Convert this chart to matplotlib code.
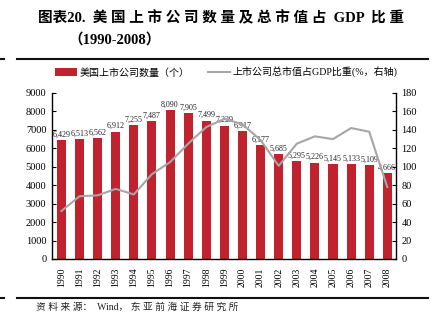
import matplotlib
matplotlib.use("Agg")
import matplotlib.pyplot as plt
from matplotlib.lines import Line2D
from matplotlib.patches import Patch

plt.rcParams['font.family'] = ['Liberation Serif', 'Noto Sans CJK SC']

years = [str(y) for y in range(1990, 2009)]
companies = [6429, 6513, 6562, 6912, 7255, 7487, 8090, 7905, 7499, 7229,
             6917, 6177, 5685, 5295, 5226, 5145, 5133, 5109, 4666]
cap_to_gdp = [52, 68, 69, 76, 70, 92, 105, 125, 143, 152,
              146, 129, 101, 125, 133, 130, 142, 138, 78]

bar_color = '#C0232E'
line_color = '#A6A6A6'

fig = plt.figure(figsize=(4.47, 3.22), dpi=100)
ax = fig.add_axes([0.1163, 0.1957, 0.7696, 0.5155])
ax2 = ax.twinx()

x = range(len(years))
bars = ax.bar(x, companies, width=0.5, color=bar_color, zorder=2)
ax.bar_label(bars, labels=[f"{v:,}" for v in companies], padding=1,
             fontsize=5.8, color='#222222')
ax2.plot(x, cap_to_gdp, color=line_color, lw=1.5, zorder=3)

ax.set_xlim(-0.52, 18.48)
ax.set_ylim(0, 9000)
ax.set_yticks(range(0, 9001, 1000))
ax2.set_ylim(0, 180)
ax2.set_yticks(range(0, 181, 20))
ax.set_xticks(list(x))
ax.set_xticklabels(years, rotation=90, fontsize=7)
ax.tick_params(axis='x', length=0, pad=6)
ax.tick_params(axis='y', direction='in', length=3, labelsize=7.5, pad=4)
ax2.tick_params(axis='y', direction='in', length=3, labelsize=7.5, pad=4)

for a in (ax, ax2):
    a.spines['top'].set_visible(False)
ax.spines['right'].set_visible(False)
ax2.spines['left'].set_visible(False)
ax2.spines['bottom'].set_visible(False)
for s in ('left', 'bottom'):
    ax.spines[s].set_linewidth(1.0)
ax2.spines['right'].set_linewidth(1.0)

ax.set_zorder(ax2.get_zorder() - 1)
ax.patch.set_visible(False)

handles = [Patch(facecolor=bar_color, edgecolor='none'),
           Line2D([], [], color=line_color, lw=1.5)]
labels = ['美国上市公司数量（个）', '上市公司总市值占GDP比重(%，右轴)']
fig.legend(handles, labels, loc='center left', bbox_to_anchor=(0.123, 0.776),
           ncol=2, frameon=False, fontsize=7.2, handlelength=2.2,
           handleheight=0.8, handletextpad=0.3, columnspacing=1.8,
           borderaxespad=0, borderpad=0)

# title block
fig.text(0.085, 0.944, '图表20.  美 国 上 市 公 司 数 量 及 总 市 值 占  GDP  比 重',
         fontsize=10.5, fontweight='bold', va='center', ha='left')
fig.text(0.152, 0.876, '（1990-2008）', fontsize=10.5, fontweight='bold',
         va='center', ha='left')
for y in (0.8168, 0.0745):
    fig.add_artist(Line2D([0.0, 0.009], [y, y], color='#111111', lw=1.5))
    fig.add_artist(Line2D([0.038, 0.957], [y, y], color='#111111', lw=1.5))

fig.text(0.08, 0.047, '资 料 来 源：  Wind， 东 亚 前 海 证 券 研 究 所', fontsize=7,
         va='center', ha='left', color='#222222')

fig.savefig('out.png', dpi=100)
